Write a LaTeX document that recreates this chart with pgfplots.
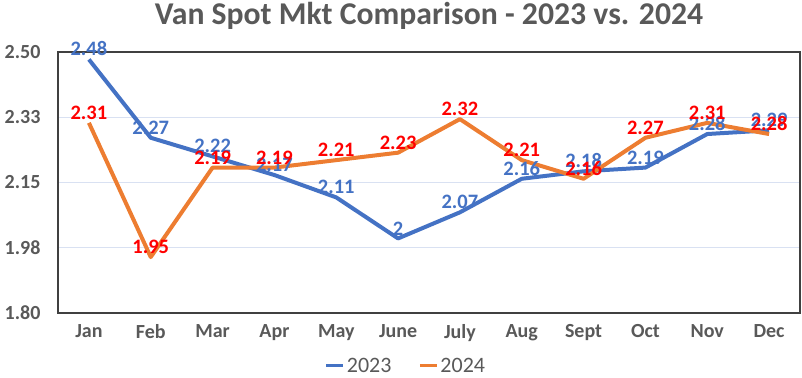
\documentclass[border=0pt]{standalone}
\usepackage{pgfplots}
\pgfplotsset{compat=1.18}
\usepackage{fontspec}
\setmainfont{Carlito}
\definecolor{c23}{HTML}{4472C4}
\definecolor{c24}{HTML}{ED7D31}
\definecolor{txt}{HTML}{595959}
\definecolor{gridc}{HTML}{D9E1F2}
\begin{document}
\begin{tikzpicture}[x=1pt,y=1pt]
\useasboundingbox (0,0) rectangle (802,377);
\node[font=\fontsize{31.7}{36}\selectfont\bfseries, text=txt, anchor=base] at (429,352) {Van Spot Mkt Comparison - 2023 vs. 2024};
\begin{axis}[
 at={(58pt,64pt)}, anchor=south west, scale only axis, width=742pt, height=261pt,
 xmin=-0.5, xmax=11.5, ymin=1.8, ymax=2.5,
 xtick={0,...,11}, xticklabels={Jan,Feb,Mar,Apr,May,June,July,Aug,Sept,Oct,Nov,Dec},
 ytick={1.8,1.975,2.15,2.325,2.5}, yticklabels={1.80,1.98,2.15,2.33,2.50},
 ymajorgrids, grid style={gridc, line width=1.2pt},
 axis line style={draw=black!75, line width=1.5pt},
 tick style={draw=none},
 ticklabel style={font=\fontsize{20}{23}\selectfont\bfseries, text=txt},
 yticklabel style={xshift=-14pt},
 xticklabel style={yshift=-8pt},
 clip=false,
 nodes near coords,
 every node near coord/.append style={font=\fontsize{20.5}{23}\selectfont\bfseries, anchor=south, yshift=-2pt},
 /pgf/number format/assume math mode=true,
 legend style={at={(0.469,-0.203)}, anchor=center, draw=none, fill=none, legend columns=2,
   font=\fontsize{22}{25}\selectfont, text=txt,
   /tikz/every even column/.append style={column sep=25pt}},
 legend image code/.code={\draw[#1, line width=3pt] (0,0) -- (17pt,0);},
]
\addplot[c23, line width=4pt, line join=round, every node near coord/.append style={text=c23}] coordinates {
(0,2.48) (1,2.27) (2,2.22) (3,2.17) (4,2.11) (5,2.00) (6,2.07) (7,2.16) (8,2.18) (9,2.19) (10,2.28) (11,2.29)};
\addlegendentry{2023}
\addplot[c24, line width=4pt, line join=round, every node near coord/.append style={text=red}] coordinates {
(0,2.31) (1,1.95) (2,2.19) (3,2.19) (4,2.21) (5,2.23) (6,2.32) (7,2.21) (8,2.16) (9,2.27) (10,2.31) (11,2.28)};
\addlegendentry{2024}
\end{axis}
\end{tikzpicture}
\end{document}
